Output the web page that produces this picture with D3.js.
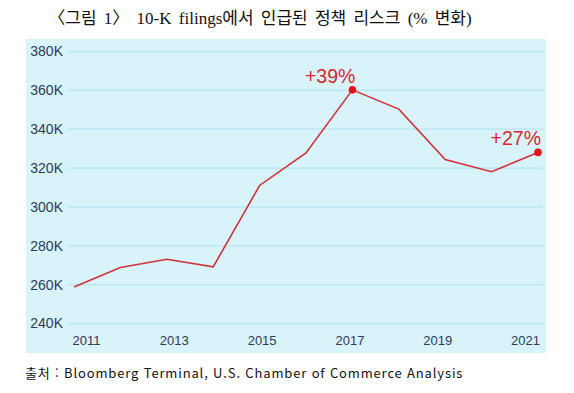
<!DOCTYPE html>
<html lang="ko">
<head>
<meta charset="utf-8">
<title>10-K filings 정책 리스크</title>
<script src="https://d3js.org/d3.v7.min.js"></script>
<style>
  body { margin: 0; background: #fff; }
  .title { font-family: "Liberation Serif", "DejaVu Serif", "Noto Sans CJK KR", serif; font-size: 17px; fill: #111; word-spacing: 3px; }
  .tick text { font-family: "Liberation Sans", Arial, sans-serif; font-size: 14px; fill: #2e3a57; }
  .note { font-family: "Noto Sans CJK KR", "DejaVu Sans", sans-serif; font-size: 13px; fill: #111; letter-spacing: 0.85px; }
  .ann { font-family: "Liberation Sans", Arial, sans-serif; font-size: 19.5px; fill: #d9262e; }
</style>
</head>
<body>
<svg id="chart" width="574" height="393"></svg>
<script>
// values (thousands of filings)
var years = [2011, 2012, 2013, 2014, 2015, 2016, 2017, 2018, 2019, 2020, 2021];
var mentions = [258.5, 268.6, 272.8, 268.9, 310.8, 327.5, 360, 350.1, 324.1, 317.9, 327.8];
var yTicks = [240, 260, 280, 300, 320, 340, 360, 380];
var xTicks = [2011, 2013, 2015, 2017, 2019, 2021];
var highlights = [{ year: 2017, label: "+39%" }, { year: 2021, label: "+27%" }];

var svg = d3.select("#chart");

// panel background
svg.append("rect")
    .attr("x", 26).attr("y", 39)
    .attr("width", 520).attr("height", 314)
    .attr("fill", "#d9f3fb");

var x = d3.scaleLinear().domain([2011, 2021]).range([74, 538]);
// year labels sit slightly inward of the points in the original
var xLab = d3.scaleLinear().domain([2011, 2021]).range([86, 525]);
var y = d3.scaleLinear().domain([240, 380]).range([323, 51]);

// grid + y labels
var yAxis = svg.append("g")
    .attr("transform", "translate(68,0)")
    .call(d3.axisRight(y).tickValues(yTicks).tickSize(475).tickFormat(function(d) { return d + "K"; }));
yAxis.select(".domain").remove();
yAxis.selectAll(".tick line").attr("stroke", "#b8e6f1").attr("stroke-width", 1.3);
yAxis.selectAll(".tick text").attr("x", -5).attr("dy", "0.35em").attr("text-anchor", "end");

var xAxis = svg.append("g")
    .attr("transform", "translate(0,333)")
    .call(d3.axisBottom(xLab).tickValues(xTicks).tickSize(0).tickFormat(d3.format("d")));
xAxis.select(".domain").remove();
xAxis.selectAll(".tick text").attr("dy", "0.71em").style("font-size", "13px");

var line = d3.line()
    .x(function(d, i) { return x(years[i]); })
    .y(function(d) { return y(d); });

svg.append("path")
    .datum(mentions)
    .attr("fill", "none")
    .attr("stroke", "#d0323a")
    .attr("stroke-width", 1.6)
    .attr("d", line);

highlights.forEach(function(h) {
  var v = mentions[years.indexOf(h.year)];
  svg.append("circle")
      .attr("cx", x(h.year)).attr("cy", y(v))
      .attr("r", 3.8).attr("fill", "#e3141e");
  svg.append("text")
      .attr("class", "ann")
      .attr("x", x(h.year) + 3)
      .attr("y", y(v) - 7)
      .attr("text-anchor", "end")
      .text(h.label);
});

svg.append("text")
    .attr("class", "title")
    .attr("x", 260).attr("y", 24)
    .attr("text-anchor", "middle")
    .text("〈그림 1〉 10-K filings에서 인급된 정책 리스크 (% 변화)");

svg.append("text")
    .attr("class", "note")
    .attr("x", 25).attr("y", 378)
    .text("출처 : Bloomberg Terminal, U.S. Chamber of Commerce Analysis");
</script>
</body>
</html>
